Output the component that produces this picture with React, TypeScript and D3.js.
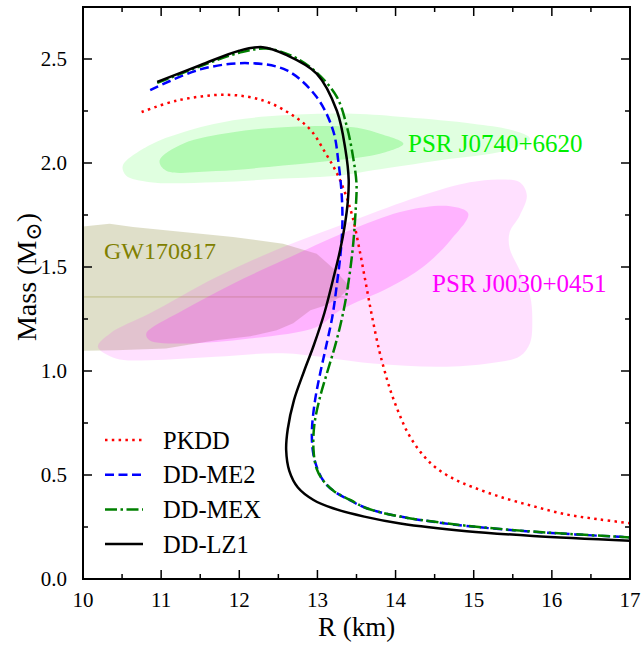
import React from "react";
import * as d3 from "d3";

const W = 642;
const H = 646;
const PL = 83, PR = 630, PT = 7, PB = 579;

// Mass-radius curves: [R (km), M (Msun)]
const pkdd: [number, number][] = [
  [10.75, 2.245], [11.2, 2.3], [11.84, 2.328], [12.31, 2.3], [12.65, 2.237], [12.91, 2.16],
  [13.1, 2.05], [13.25, 1.95], [13.36, 1.85], [13.45, 1.74], [13.54, 1.58], [13.62, 1.42],
  [13.7, 1.26], [13.79, 1.1], [13.86, 1.0], [13.94, 0.9], [14.04, 0.8], [14.16, 0.7],
  [14.32, 0.61], [14.5, 0.54], [14.75, 0.48], [15.0, 0.44], [15.34, 0.395], [15.76, 0.35],
  [16.19, 0.31], [16.6, 0.287], [17.0, 0.268],
];
const ddme2: [number, number][] = [
  [10.86, 2.35], [11.5, 2.45], [12.12, 2.48], [12.61, 2.445], [12.99, 2.317], [13.2, 2.157],
  [13.27, 2.0], [13.31, 1.85], [13.32, 1.72], [13.3, 1.58], [13.25, 1.42], [13.19, 1.26],
  [13.1, 1.1], [13.03, 0.98], [12.97, 0.86], [12.93, 0.72], [12.94, 0.62], [12.99, 0.54],
  [13.08, 0.47], [13.22, 0.42], [13.42, 0.378], [13.63, 0.34], [14.06, 0.3], [14.48, 0.275],
  [14.91, 0.255], [15.76, 0.227], [17.0, 0.2],
];
const ddmex: [number, number][] = [
  [10.95, 2.385], [11.5, 2.465], [12.0, 2.53], [12.35, 2.55], [12.7, 2.51], [12.99, 2.435],
  [13.25, 2.317], [13.38, 2.17], [13.46, 2.02], [13.5, 1.9], [13.49, 1.78], [13.46, 1.62],
  [13.41, 1.46], [13.34, 1.3], [13.24, 1.14], [13.13, 1.0], [13.03, 0.87], [12.96, 0.74],
  [12.95, 0.62], [12.99, 0.53], [13.08, 0.47], [13.22, 0.42], [13.42, 0.38], [13.63, 0.34],
  [14.06, 0.3], [14.48, 0.276], [14.91, 0.256], [15.76, 0.228], [17.0, 0.2],
];
const ddlz1: [number, number][] = [
  [10.95, 2.39], [11.5, 2.47], [12.0, 2.54], [12.3, 2.557], [12.6, 2.52], [12.99, 2.43],
  [13.25, 2.25], [13.36, 2.06], [13.4, 1.92], [13.39, 1.82], [13.35, 1.7], [13.29, 1.58],
  [13.2, 1.44], [13.09, 1.28], [12.95, 1.12], [12.83, 1.0], [12.7, 0.86], [12.62, 0.72],
  [12.6, 0.62], [12.64, 0.52], [12.75, 0.44], [12.95, 0.38], [13.2, 0.34], [13.6, 0.3],
  [14.06, 0.267], [14.91, 0.23], [15.76, 0.207], [17.0, 0.184],
];

// Observational constraint regions: [R, M]
const j0740Outer: [number, number][] = [
  [10.51, 1.988], [10.85, 2.085], [11.28, 2.148], [11.92, 2.205], [12.56, 2.229], [13.46, 2.237],
  [14.14, 2.22], [14.99, 2.189], [15.5, 2.157], [15.72, 2.117], [15.42, 2.061], [14.57, 2.013],
  [13.71, 1.965], [13.29, 1.94], [12.56, 1.925], [11.7, 1.908], [10.86, 1.908], [10.55, 1.94],
];
const j0740Inner: [number, number][] = [
  [10.98, 2.012], [11.28, 2.093], [11.92, 2.148], [12.56, 2.172], [13.46, 2.172], [13.8, 2.141],
  [14.1, 2.093], [13.8, 2.045], [13.29, 2.016], [12.56, 1.988], [11.7, 1.961], [11.06, 1.964],
];
const j0030Outer: [number, number][] = [
  [10.19, 1.116], [10.35, 1.182], [10.85, 1.276], [11.71, 1.452], [12.56, 1.596], [13.46, 1.724],
  [14.31, 1.84], [14.95, 1.907], [15.34, 1.921], [15.59, 1.907], [15.68, 1.844], [15.59, 1.748],
  [15.46, 1.667], [15.46, 1.59], [15.59, 1.484], [15.72, 1.364], [15.75, 1.244], [15.72, 1.134],
  [15.59, 1.071], [15.21, 1.037], [14.57, 1.02], [13.71, 1.036], [12.56, 1.085], [11.7, 1.068],
  [10.86, 1.052], [10.42, 1.06],
];
const j0030Inner: [number, number][] = [
  [10.81, 1.18], [11.28, 1.292], [11.92, 1.42], [12.56, 1.532], [13.46, 1.684], [14.14, 1.772],
  [14.7, 1.792], [14.93, 1.757], [14.7, 1.628], [14.35, 1.5], [13.93, 1.404], [13.29, 1.292],
  [12.99, 1.212], [12.13, 1.156], [11.28, 1.132], [10.85, 1.148],
];
const gw170817: [number, number][] = [
  [9.9, 1.695], [10.0, 1.695], [10.34, 1.708], [10.64, 1.692], [11.28, 1.668], [11.92, 1.644],
  [12.56, 1.612], [12.99, 1.564], [13.2, 1.494], [13.42, 1.404], [13.29, 1.356], [13.11, 1.316],
  [12.91, 1.292], [12.69, 1.23], [12.48, 1.196], [12.14, 1.167], [11.7, 1.148], [11.06, 1.108],
  [10.42, 1.1], [10.0, 1.097], [9.9, 1.097],
];
const gwLineM = 1.356;
const gwLineR: [number, number] = [9.9, 13.35];

const xTicks = [10, 11, 12, 13, 14, 15, 16, 17];
const xMinor = [10.5, 11.5, 12.5, 13.5, 14.5, 15.5, 16.5];
const yTicks = [0, 0.5, 1.0, 1.5, 2.0, 2.5];
const yMinor = [0.25, 0.75, 1.25, 1.75, 2.25, 2.75];

const legendNames = ["PKDD", "DD-ME2", "DD-MEX", "DD-LZ1"];
const seriesColors = ["#ff0000", "#0000ff", "#008000", "#000000"];
const seriesDash = ["2.5 4.3", "9 4.5", "12 3.5 2.5 3.5", ""];

const FONT = '"Liberation Serif", "DejaVu Serif", "Times New Roman", Times, serif';

export default function App() {
  const x = d3.scaleLinear().domain([10, 17]).range([PL, PR]);
  const y = d3.scaleLinear().domain([0, 2.75]).range([PB, PT]);
  const line = d3
    .line<[number, number]>()
    .x((d) => x(d[0]))
    .y((d) => y(d[1]))
    .curve(d3.curveCatmullRom.alpha(0.5));
  const area = d3
    .line<[number, number]>()
    .x((d) => x(d[0]))
    .y((d) => y(d[1]))
    .curve(d3.curveCatmullRomClosed.alpha(0.5));
  const gwShape = d3
    .line<[number, number]>()
    .x((d) => x(d[0]))
    .y((d) => y(d[1]))
    .curve(d3.curveLinearClosed);

  const series = [pkdd, ddme2, ddmex, ddlz1];
  const majorLen = 9;
  const minorLen = 5;
  const tf = { fontFamily: FONT };

  return (
    <svg
      width={W}
      height={H}
      style={{ position: "absolute", left: 0, top: 0, background: "#fff", fontFamily: FONT }}
    >
      <defs>
        <clipPath id="plotClip">
          <rect x={PL} y={PT} width={PR - PL} height={PB - PT} />
        </clipPath>
      </defs>
      <g clipPath="url(#plotClip)">
        <path d={gwShape(gw170817) || ""} fill="rgb(128,128,40)" fillOpacity={0.25} />
        <line
          x1={x(gwLineR[0])}
          x2={x(gwLineR[1])}
          y1={y(gwLineM)}
          y2={y(gwLineM)}
          stroke="#808000"
          strokeOpacity={0.35}
          strokeWidth={1}
        />
        <path d={area(j0030Outer) || ""} fill="#ff00ff" fillOpacity={0.12} />
        <path d={area(j0030Inner) || ""} fill="#ff00ff" fillOpacity={0.2} />
        <path d={area(j0740Outer) || ""} fill="#00ff00" fillOpacity={0.12} />
        <path d={area(j0740Inner) || ""} fill="#00e600" fillOpacity={0.2} />
        {series.map((s, i) => (
          <path
            key={i}
            d={line(s) || ""}
            fill="none"
            stroke={seriesColors[i]}
            strokeWidth={2.5}
            strokeDasharray={seriesDash[i] || undefined}
          />
        ))}
      </g>

      <text style={tf} x={408} y={152} fontSize={25} fill="#00ee00">PSR J0740+6620</text>
      <text style={tf} x={432} y={292} fontSize={25} fill="#ff00ff">PSR J0030+0451</text>
      <text style={tf} x={104} y={259} fontSize={24} fill="#808000">GW170817</text>

      {legendNames.map((n, i) => {
        const ly = 440 + i * 34.7;
        return (
          <g key={n}>
            <line
              x1={105}
              x2={143}
              y1={ly}
              y2={ly}
              stroke={seriesColors[i]}
              strokeWidth={2.5}
              strokeDasharray={seriesDash[i] || undefined}
            />
            <text style={tf} x={163} y={ly + 8.5} fontSize={24.5} fill="#000">{n}</text>
          </g>
        );
      })}

      <g stroke="#000" strokeWidth={1.5}>
        {xTicks.map((t) => (
          <g key={"xt" + t}>
            <line x1={x(t)} x2={x(t)} y1={PB} y2={PB - majorLen} />
            <line x1={x(t)} x2={x(t)} y1={PT} y2={PT + majorLen} />
          </g>
        ))}
        {xMinor.map((t) => (
          <g key={"xm" + t}>
            <line x1={x(t)} x2={x(t)} y1={PB} y2={PB - minorLen} />
            <line x1={x(t)} x2={x(t)} y1={PT} y2={PT + minorLen} />
          </g>
        ))}
        {yTicks.map((t) => (
          <g key={"yt" + t}>
            <line x1={PL} x2={PL + majorLen} y1={y(t)} y2={y(t)} />
            <line x1={PR} x2={PR - majorLen} y1={y(t)} y2={y(t)} />
          </g>
        ))}
        {yMinor.map((t) => (
          <g key={"ym" + t}>
            <line x1={PL} x2={PL + minorLen} y1={y(t)} y2={y(t)} />
            <line x1={PR} x2={PR - minorLen} y1={y(t)} y2={y(t)} />
          </g>
        ))}
      </g>
      <rect x={PL} y={PT} width={PR - PL} height={PB - PT} fill="none" stroke="#000" strokeWidth={2} />

      {xTicks.map((t) => (
        <text style={tf} key={"xl" + t} x={x(t)} y={607} fontSize={21} textAnchor="middle" fill="#000">
          {String(t)}
        </text>
      ))}
      {yTicks.map((t) => (
        <text style={tf} key={"yl" + t} x={67} y={y(t) + 7} fontSize={21} textAnchor="end" fill="#000">
          {d3.format(".1f")(t)}
        </text>
      ))}

      <text style={tf} x={(PL + PR) / 2} y={636} fontSize={27} textAnchor="middle" fill="#000">R (km)</text>
      <text
        style={tf}
        transform={`translate(36, 277) rotate(-90)`}
        fontSize={28}
        textAnchor="middle"
        fill="#000"
      >
        Mass (M
        <tspan fontSize={22} dy={5}>⊙</tspan>
        <tspan dy={-5}>)</tspan>
      </text>
    </svg>
  );
}
